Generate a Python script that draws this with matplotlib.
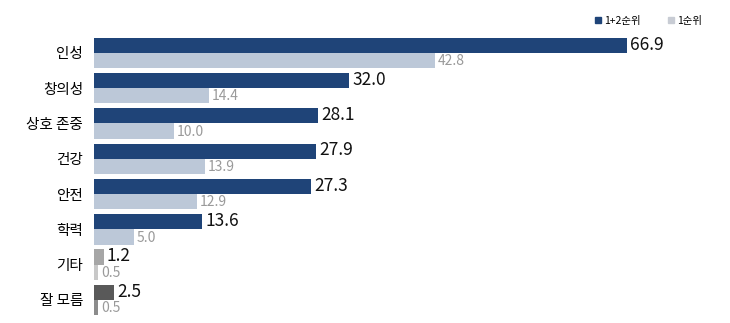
import matplotlib
matplotlib.use("Agg")
import matplotlib.pyplot as plt
from matplotlib.patches import Patch

plt.rcParams['font.family'] = ['Noto Sans CJK KR', 'DejaVu Sans']

categories = ['인성', '창의성', '상호 존중', '건강', '안전', '학력', '기타', '잘 모름']
rank12 = [66.9, 32.0, 28.1, 27.9, 27.3, 13.6, 1.2, 2.5]
rank1 = [42.8, 14.4, 10.0, 13.9, 12.9, 5.0, 0.5, 0.5]
legend_labels = ['1+2순위', '1순위']

dark_colors = ['#1f4478'] * 6 + ['#a6a6a6', '#595959']
light_colors = ['#bcc8d8'] * 6 + ['#c8c8c8', '#8c8c8c']

fig = plt.figure(figsize=(7.30, 3.23), dpi=100)
ax = fig.add_axes([94/730, 5.4/323, 637/730, 282.4/323])

h = 0.43
y = list(range(len(categories)))
ax.barh([i - h/2 for i in y], rank12, height=h, color=dark_colors)
ax.barh([i + h/2 for i in y], rank1, height=h, color=light_colors)

for i in y:
    ax.text(rank12[i] + 0.4, i - h/2 - 0.02, f'{rank12[i]:.1f}', va='center', ha='left',
            fontsize=12.5, color='#111111')
    ax.text(rank1[i] + 0.4, i + h/2 + 0.02, f'{rank1[i]:.1f}', va='center', ha='left',
            fontsize=10, color='#9a9a9a')

ax.set_xlim(0, 80)
ax.set_ylim(len(categories) - 0.5, -0.5)
ax.set_yticks(y)
ax.set_yticklabels(categories, fontsize=10.5, color='#000000')
ax.tick_params(axis='y', length=0, pad=8)
ax.set_xticks([])
for s in ax.spines.values():
    s.set_visible(False)

handles = [Patch(color='#1f4478'), Patch(color='#c8ccd4')]
fig.legend(handles, legend_labels, loc='center right', bbox_to_anchor=(0.975, 0.935),
           ncol=2, frameon=False, fontsize=7.5, handlelength=0.55, handleheight=0.55,
           handletextpad=0.35, columnspacing=2.6)

fig.savefig('out.png', dpi=100)
